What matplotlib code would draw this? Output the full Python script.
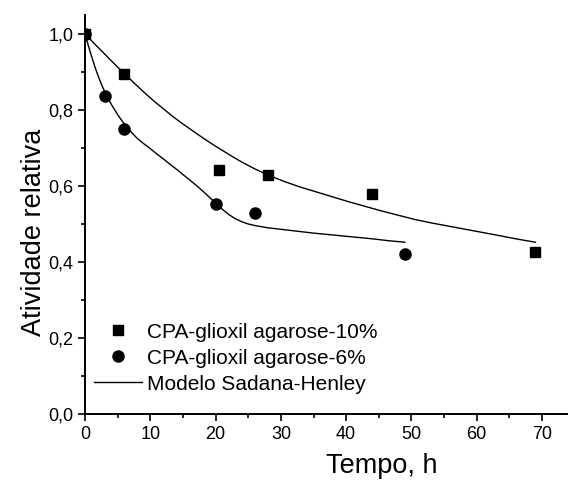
import matplotlib
matplotlib.use("Agg")
import matplotlib.pyplot as plt
from matplotlib.ticker import MultipleLocator, FuncFormatter

plt.rcParams['font.family'] = ['Liberation Sans', 'DejaVu Sans']

# measured activity
t_10 = [0, 6, 20.5, 28, 44, 69]
a_10 = [1.0, 0.895, 0.642, 0.628, 0.578, 0.425]
t_6 = [0, 3, 6, 20, 26, 49]
a_6 = [1.0, 0.837, 0.751, 0.553, 0.528, 0.422]

# Sadana-Henley model curves
tm_10 = [0, 1.5, 3, 4.5, 6, 7.5, 9, 10.5, 12, 13.5, 15, 16.5, 18, 19.5, 21, 22.5,
         24, 26, 28, 30.5, 33, 35.5, 38, 40.5, 43, 45.5, 48, 50.5, 53, 55.5, 58,
         60.5, 63, 66, 69]
am_10 = [1.0, 0.973, 0.947, 0.921, 0.896, 0.871, 0.847, 0.824, 0.803, 0.782,
         0.763, 0.745, 0.727, 0.710, 0.694, 0.678, 0.663, 0.645, 0.629, 0.612,
         0.597, 0.584, 0.571, 0.558, 0.546, 0.534, 0.523, 0.512, 0.503, 0.495,
         0.487, 0.479, 0.471, 0.461, 0.452]
tm_6 = [0, 0.5, 1, 1.5, 2, 2.5, 3, 3.5, 4, 5, 6, 7, 8, 9, 10, 11, 12, 13, 14, 15,
        16, 17, 18, 19, 20, 21, 22, 23, 24, 25, 26, 27, 28, 30, 32, 35, 38, 41,
        44, 46.5, 49]
am_6 = [1.0, 0.968, 0.940, 0.913, 0.889, 0.867, 0.848, 0.831, 0.815, 0.787,
        0.763, 0.743, 0.725, 0.711, 0.698, 0.684, 0.671, 0.657, 0.644, 0.630,
        0.616, 0.602, 0.587, 0.571, 0.555, 0.539, 0.525, 0.514, 0.506, 0.500,
        0.496, 0.493, 0.490, 0.486, 0.482, 0.476, 0.471, 0.466, 0.461, 0.456,
        0.452]

fig = plt.figure(figsize=(5.68, 4.83), dpi=100)
ax = fig.add_axes([0.150, 0.1429, 0.850, 0.826])

ax.plot(t_10, a_10, 's', color='black', ms=7, label='CPA-glioxil agarose-10%')
ax.plot(t_6, a_6, 'o', color='black', ms=8, label='CPA-glioxil agarose-6%')
ax.plot(tm_10, am_10, '-', color='black', lw=1.0, label='Modelo Sadana-Henley')
ax.plot(tm_6, am_6, '-', color='black', lw=1.0)

ax.set_xlim(0, 74)
ax.set_ylim(0, 1.05)
ax.spines['top'].set_visible(False)
ax.spines['right'].set_visible(False)
for s in ('left', 'bottom'):
    ax.spines[s].set_linewidth(1.4)

ax.xaxis.set_major_locator(MultipleLocator(10))
ax.xaxis.set_minor_locator(MultipleLocator(5))
ax.yaxis.set_major_locator(MultipleLocator(0.2))
ax.yaxis.set_minor_locator(MultipleLocator(0.1))
ax.yaxis.set_major_formatter(FuncFormatter(lambda v, p: f"{v:.1f}".replace('.', ',')))
ax.tick_params(which='major', length=5, width=1.2, labelsize=13, direction='out')
ax.tick_params(which='minor', length=3, width=1.2, direction='out')

ax.set_xlabel('Tempo, h', fontsize=19.5)
ax.set_ylabel('Atividade relativa', fontsize=19.5)
ax.xaxis.set_label_coords(0.615, -0.098)
ax.yaxis.set_label_coords(-0.079, 0.456)

ax.legend(loc='center left', bbox_to_anchor=(0.018, 0.140), frameon=False,
          fontsize=15, handlelength=2.3, handletextpad=0.25, labelspacing=0.34,
          borderpad=0, borderaxespad=0)

fig.savefig('out.png', dpi=100)
